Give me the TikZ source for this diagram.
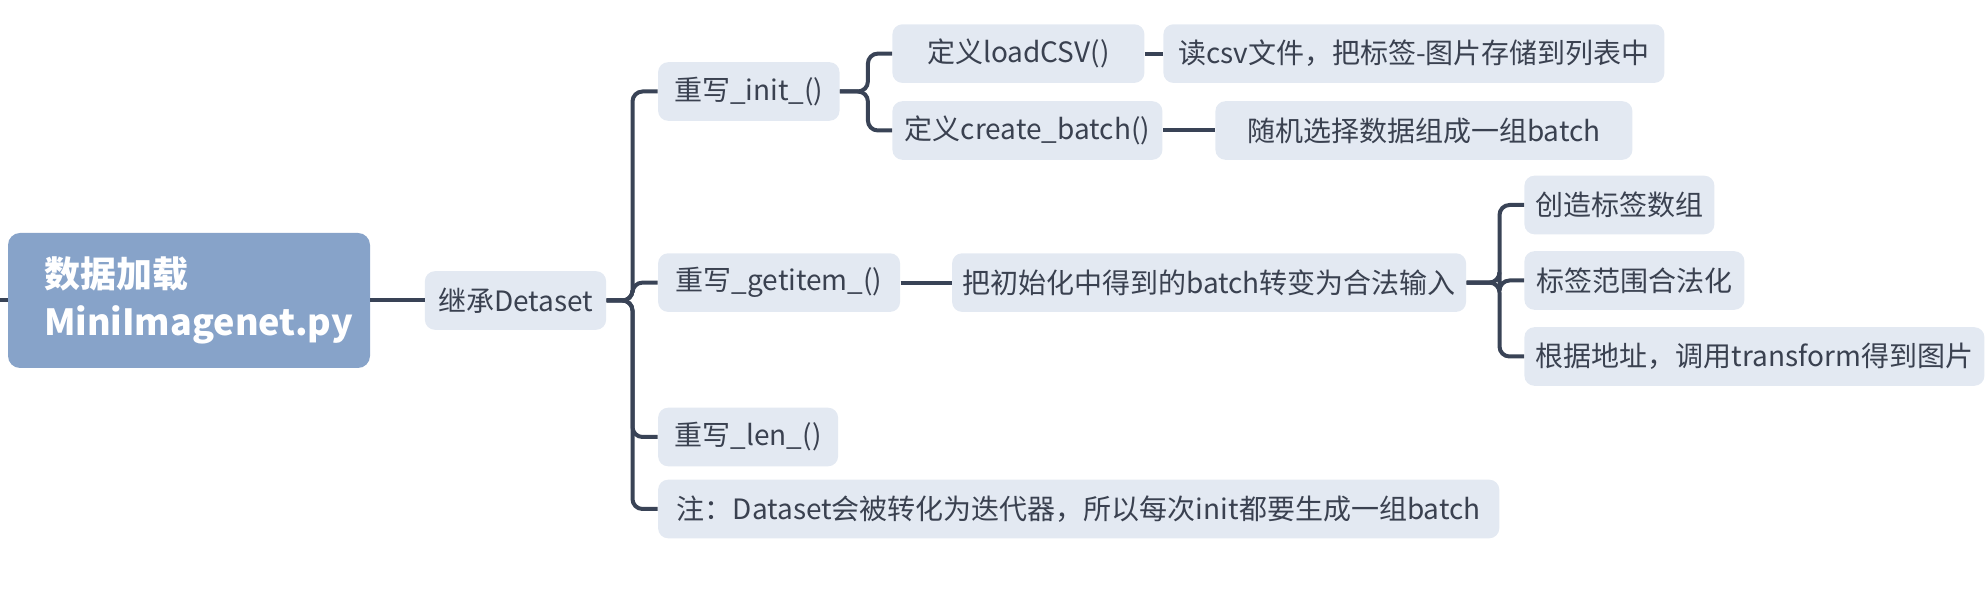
\documentclass[tikz,border=0pt]{standalone}
\usepackage{fontspec}
\setmainfont{Noto Sans CJK SC}
\usepackage{tikz}
\usetikzlibrary{calc}
\definecolor{raizfondo}{HTML}{87A3C9}
\definecolor{cajafondo}{HTML}{E3E9F2}
\definecolor{linea}{HTML}{394356}
\definecolor{tinta}{HTML}{3A4150}
\tikzset{
  raiz/.style={rectangle,rounded corners=6pt,fill=raizfondo,text=white,anchor=west,minimum height=67.5pt,text width=145pt,inner xsep=18pt,align=left,font=\fontsize{18}{24}\selectfont\bfseries},
  caja/.style={rectangle,rounded corners=5pt,fill=cajafondo,text=tinta,anchor=west,minimum height=29.3pt,inner xsep=0pt,font=\fontsize{14}{16}\selectfont},
  rama/.style={draw=linea,line width=2pt,rounded corners=5pt},
}

\begin{document}
\begin{tikzpicture}[x=0.5pt,y=-0.5pt]
  \useasboundingbox (0,0) rectangle (1987,603);
  % raiz y primer nivel
  \node[raiz] (raiz) at (7.6,300.5) {数据加载\\MiniImagenet.py};
  \node[caja,minimum width=90.6pt] (hereda) at (424.5,300.5) {继承Detaset};
  \node[caja,minimum width=90.7pt] (init) at (657.7,91.5) {重写\_init\_()};
  \node[caja,minimum width=121pt] (getitem) at (657.7,282.6) {重写\_getitem\_()};
  \node[caja,minimum width=90pt] (len) at (657.7,437) {重写\_len\_()};
  \node[caja,minimum width=420.6pt] (nota) at (657.7,509) {注：Dataset会被转化为迭代器，所以每次init都要生成一组batch};
  % ramas de init
  \node[caja,minimum width=126pt] (loadcsv) at (892,53.6) {定义loadCSV()};
  \node[caja,minimum width=135pt] (crear) at (892,130.5) {定义create\_batch()};
  \node[caja,minimum width=250.5pt] (leer) at (1163,53.6) {读csv文件，把标签-图片存储到列表中};
  \node[caja,minimum width=208.5pt] (azar) at (1215,130.5) {随机选择数据组成一组batch};
  % ramas de getitem
  \node[caja,minimum width=257pt] (convertir) at (951.7,282.6) {把初始化中得到的batch转变为合法输入};
  \node[caja,minimum width=95pt] (crea) at (1524,205) {创造标签数组};
  \node[caja,minimum width=110pt] (rango) at (1524,280.5) {标签范围合法化};
  \node[caja,minimum width=230pt] (transf) at (1524,356.5) {根据地址，调用transform得到图片};

  \coordinate (entrada) at (0,300.5);
  \draw[rama] (entrada) -- (raiz.west);
  \draw[rama] (raiz.east) -- (hereda.west);
  \foreach \hijo in {init,getitem,len,nota}
    \draw[rama] (hereda.east) -- ++(13pt,0) |- (\hijo.west);
  \foreach \hijo in {loadcsv,crear}
    \draw[rama] (init.east) -- ++(14pt,0) |- (\hijo.west);
  \draw[rama] (loadcsv.east) -- (leer.west);
  \draw[rama] (crear.east) -- (azar.west);
  \draw[rama] (getitem.east) -- (convertir.west);
  \foreach \hijo in {crea,rango,transf}
    \draw[rama] (convertir.east) -- ++(16.5pt,0) |- (\hijo.west);
\end{tikzpicture}
\end{document}
